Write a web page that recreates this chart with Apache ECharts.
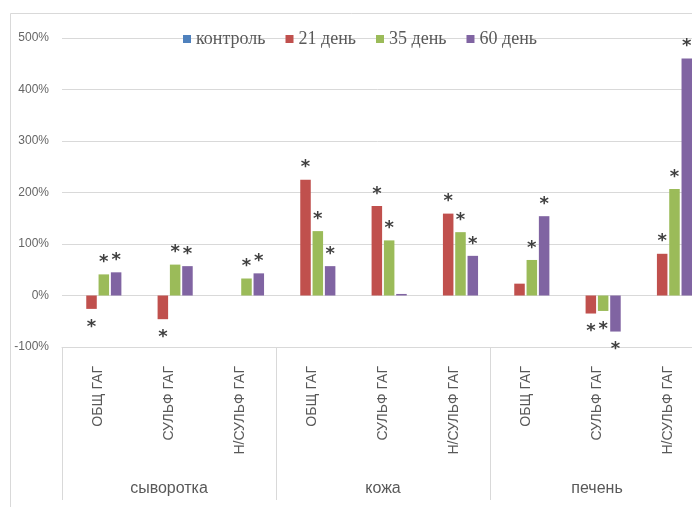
<!DOCTYPE html>
<html>
<head>
<meta charset="utf-8">
<script src="https://cdn.jsdelivr.net/npm/echarts@6/dist/echarts.min.js"></script>
<style>
  html, body { margin: 0; padding: 0; background: #ffffff; }
  #chart { width: 692px; height: 510px; }
</style>
</head>
<body>
<div id="chart"></div>
<script>
// Tissue groups and the GAG fractions measured in each
const groups = ['сыворотка', 'кожа', 'печень'];
const categories = ['ОБЩ ГАГ', 'СУЛЬФ ГАГ', 'Н/СУЛЬФ ГАГ',
                    'ОБЩ ГАГ', 'СУЛЬФ ГАГ', 'Н/СУЛЬФ ГАГ',
                    'ОБЩ ГАГ', 'СУЛЬФ ГАГ', 'Н/СУЛЬФ ГАГ'];

// Change relative to control, %
const seriesNames = ['контроль', '21 день', '35 день', '60 день'];
const control = [0, 0, 0, 0, 0, 0, 0, 0, 0];
const day21 = [-26, -46, 0, 225, 174, 159, 23, -35, 81];
const day35 = [41, 60, 33, 125, 107, 123, 69, -30, 207];
const day60 = [45, 57, 43, 57, 3, 77, 154, -70, 460];

// Significant differences (marked with an asterisk)
const sig21 = [true, true, false, true, true, true, false, true, true];
const sig35 = [true, true, true, true, true, true, true, true, true];
const sig60 = [true, true, true, true, false, true, true, true, true];
const sigControl = [false, false, false, false, false, false, false, false, false];

const yTicks = { min: -100, max: 500, step: 100 };

const colors = ['#4F81BD', '#C0504D', '#9BBB59', '#8064A2'];

function buildSeries(name, values, sig, color) {
  return {
    name: name,
    type: 'bar',
    barGap: '17%',
    barCategoryGap: '33.5%',
    itemStyle: { color: color },
    data: values.map(function (v, i) {
      return {
        value: v,
        label: {
          show: sig[i],
          position: v < 0 ? 'bottom' : 'top',
          distance: v < 0 ? 9 : 3
        }
      };
    }),
    label: {
      formatter: '*',
      fontFamily: 'DejaVu Sans',
      fontWeight: 'bold',
      fontSize: 18,
      color: '#404040'
    }
  };
}

const chart = echarts.init(document.getElementById('chart'), null, { renderer: 'canvas' });

chart.setOption({
  backgroundColor: '#ffffff',
  animation: false,
  color: colors,
  graphic: [
    { type: 'line', shape: { x1: 10.5, y1: 13.5, x2: 692, y2: 13.5 }, style: { stroke: '#D9D9D9', lineWidth: 1 } },
    { type: 'line', shape: { x1: 10.5, y1: 13.5, x2: 10.5, y2: 507 }, style: { stroke: '#D9D9D9', lineWidth: 1 } }
  ],
  legend: {
    data: seriesNames,
    left: 178,
    top: 25,
    itemWidth: 8,
    itemHeight: 8,
    itemGap: 20,
    icon: 'rect',
    textStyle: { fontFamily: 'Liberation Serif', fontSize: 18, color: '#595959' }
  },
  grid: { left: 62, top: 38, width: 642, height: 309, outerBoundsMode: 'none', containLabel: false },
  xAxis: [
    {
      type: 'category',
      data: categories,
      position: 'bottom',
      axisLine: { show: true, onZero: false, lineStyle: { color: '#D9D9D9' } },
      axisTick: { show: false },
      axisLabel: {
        interval: 0,
        rotate: 90,
        margin: 19,
        fontFamily: 'Liberation Sans',
        fontSize: 14,
        color: '#595959'
      }
    },
    {
      type: 'category',
      data: groups,
      position: 'bottom',
      axisLine: { show: false, onZero: false },
      axisTick: { show: true, interval: 0, length: 153, lineStyle: { color: '#D9D9D9' } },
      axisLabel: {
        interval: 0,
        margin: 134,
        fontFamily: 'Liberation Sans',
        fontSize: 16,
        color: '#595959'
      }
    }
  ],
  yAxis: {
    type: 'value',
    min: yTicks.min,
    max: yTicks.max,
    interval: yTicks.step,
    axisLine: { show: false },
    axisTick: { show: false },
    splitLine: { lineStyle: { color: '#D9D9D9' } },
    axisLabel: {
      margin: 13,
      formatter: '{value}%',
      fontFamily: 'Liberation Sans',
      fontSize: 12,
      color: '#666666'
    }
  },
  series: [
    buildSeries(seriesNames[0], control, sigControl, colors[0]),
    buildSeries(seriesNames[1], day21, sig21, colors[1]),
    buildSeries(seriesNames[2], day35, sig35, colors[2]),
    buildSeries(seriesNames[3], day60, sig60, colors[3])
  ]
});
</script>
</body>
</html>
